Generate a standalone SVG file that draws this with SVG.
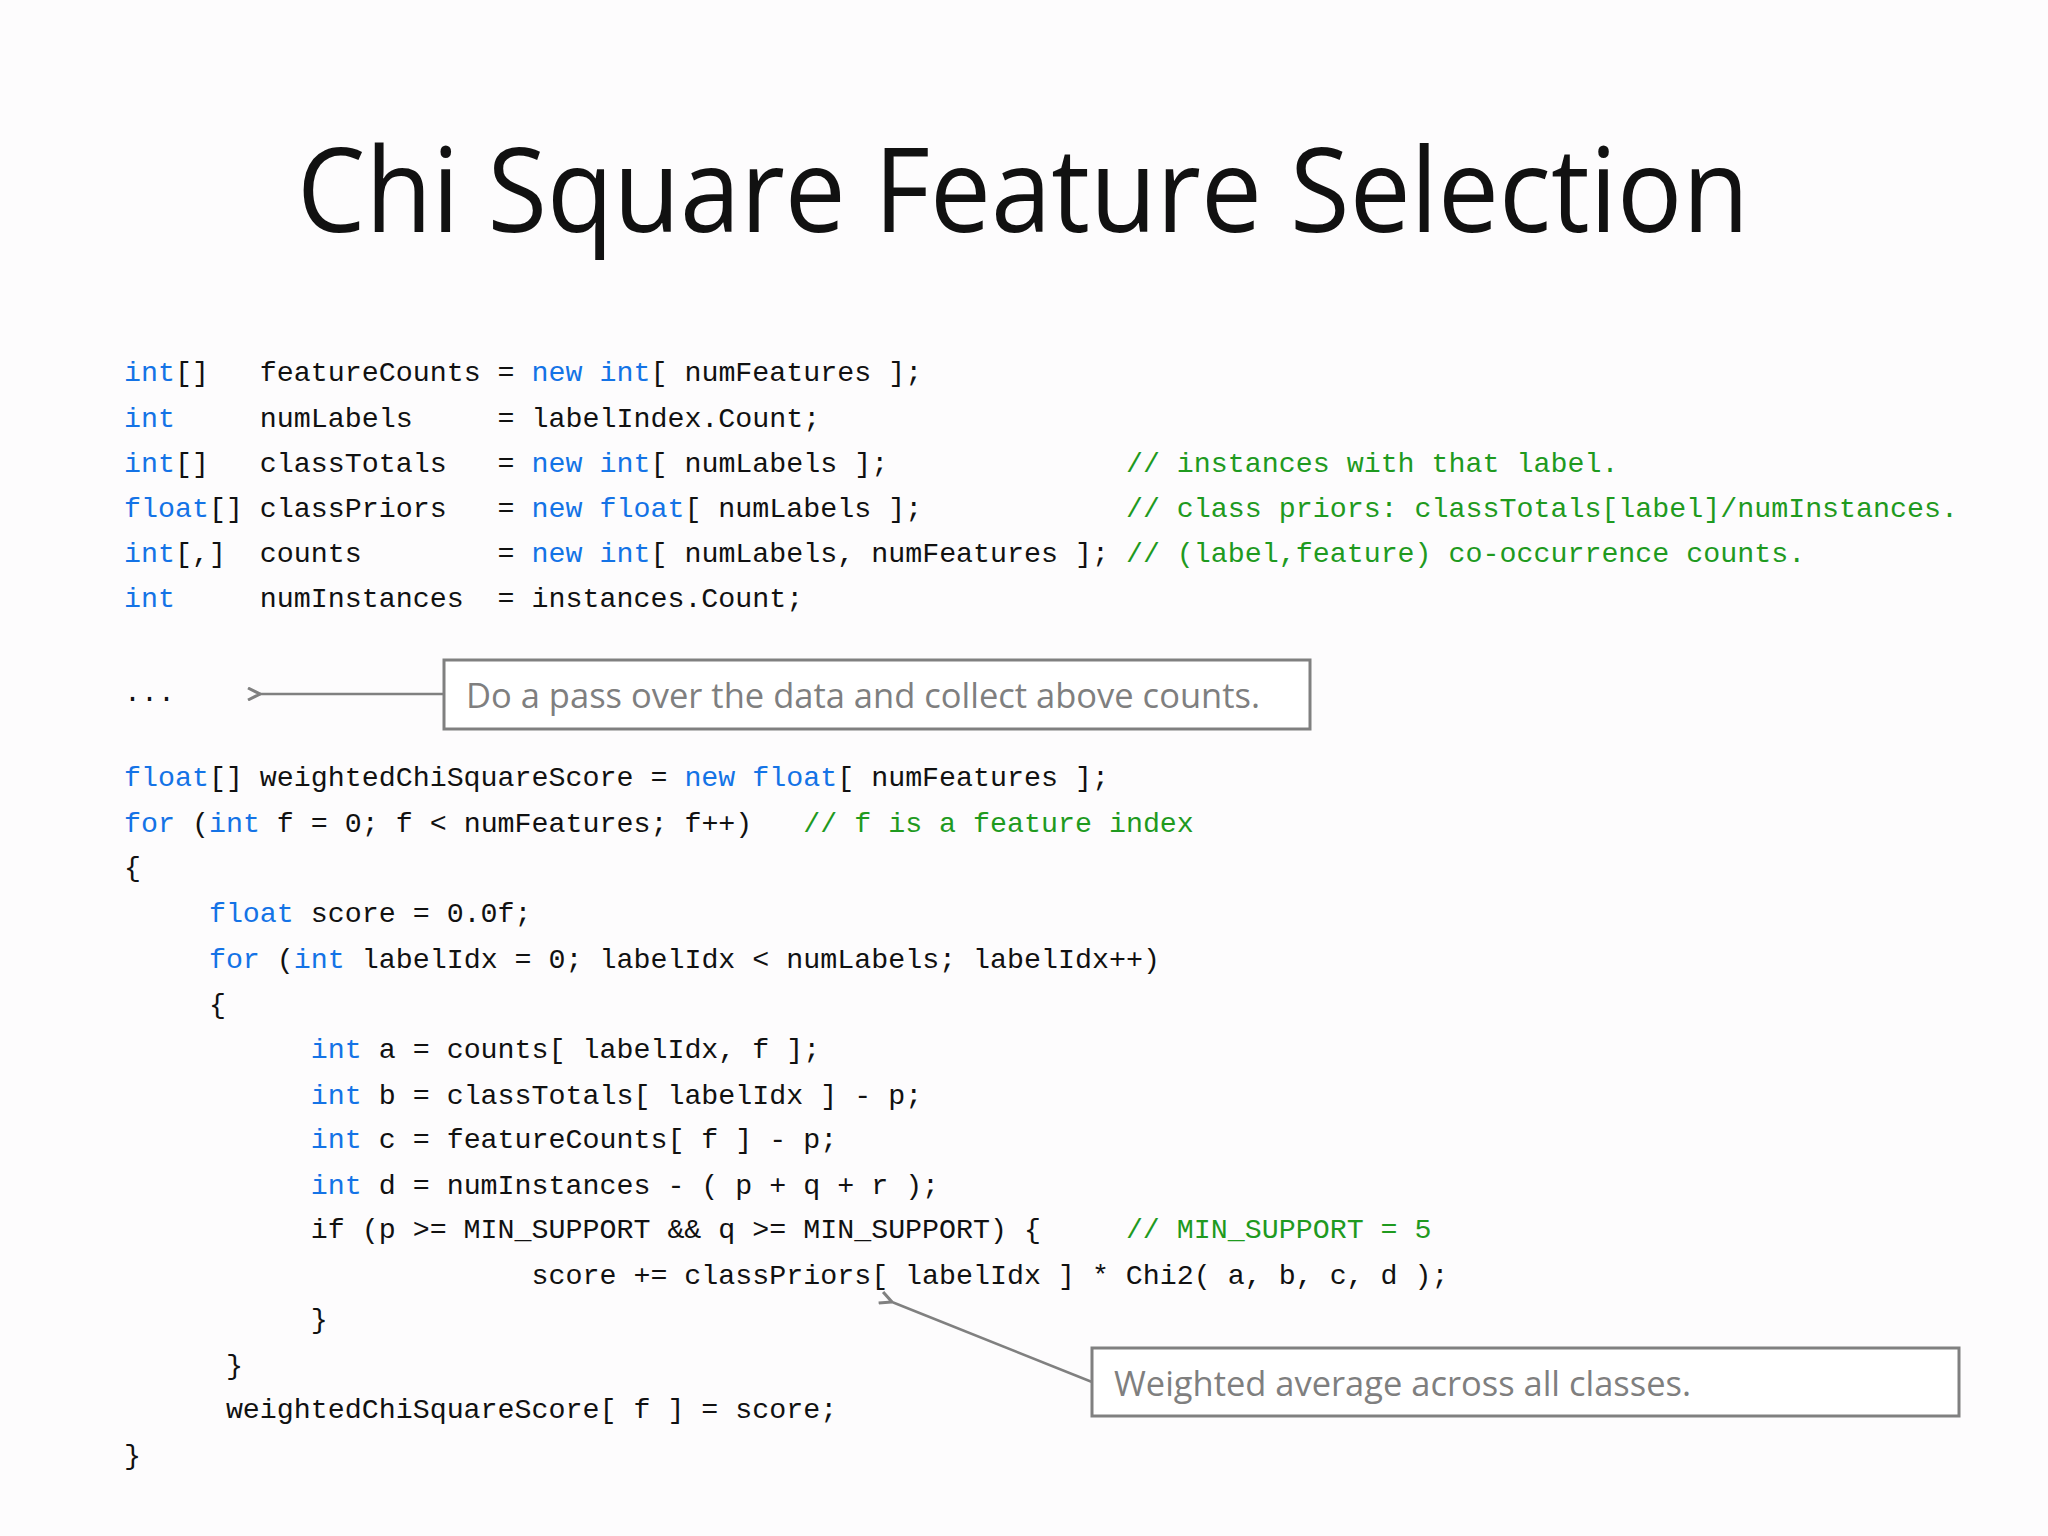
<svg xmlns="http://www.w3.org/2000/svg" width="2048" height="1536" viewBox="0 0 2048 1536">
<style>
.c{font-family:"Liberation Mono","DejaVu Sans Mono",monospace;font-size:28.3px;fill:#111;white-space:pre}
.k{fill:#1473e6}
.g{fill:#1f9a1f}
.n{font-family:"Open Sans","Liberation Sans",sans-serif;fill:#7f7f7f;font-size:34px}
.box{fill:#fff;stroke:#808080;stroke-width:3}
.con{stroke:#808080;stroke-width:2.5;fill:none}
</style>
<defs><marker id="ah" markerWidth="14" markerHeight="14" refX="1" refY="7" orient="auto" markerUnits="userSpaceOnUse"><path d="M13,1 L1,7 L13,13" fill="none" stroke="#808080" stroke-width="3"/></marker></defs>
<rect width="2048" height="1536" fill="#fdfcfd"/>
<text x="1023" y="232" text-anchor="middle" font-family="'Open Sans','Liberation Sans',sans-serif" font-size="118" fill="#111" textLength="1452" lengthAdjust="spacingAndGlyphs">Chi Square Feature Selection</text>
<g id="code" xml:space="preserve">
<text class="c" x="124" y="381"><tspan class="k">int</tspan>[]   featureCounts = <tspan class="k">new</tspan> <tspan class="k">int</tspan>[ numFeatures ];</text>
<text class="c" x="124" y="427"><tspan class="k">int</tspan>     numLabels     = labelIndex.Count;</text>
<text class="c" x="124" y="472"><tspan class="k">int</tspan>[]   classTotals   = <tspan class="k">new</tspan> <tspan class="k">int</tspan>[ numLabels ];              <tspan class="g">// instances with that label.</tspan></text>
<text class="c" x="124" y="517"><tspan class="k">float</tspan>[] classPriors   = <tspan class="k">new</tspan> <tspan class="k">float</tspan>[ numLabels ];            <tspan class="g">// class priors: classTotals[label]/numInstances.</tspan></text>
<text class="c" x="124" y="562"><tspan class="k">int</tspan>[,]  counts        = <tspan class="k">new</tspan> <tspan class="k">int</tspan>[ numLabels, numFeatures ]; <tspan class="g">// (label,feature) co-occurrence counts.</tspan></text>
<text class="c" x="124" y="607"><tspan class="k">int</tspan>     numInstances  = instances.Count;</text>
<text class="c" x="124" y="701">...</text>
<text class="c" x="124" y="786"><tspan class="k">float</tspan>[] weightedChiSquareScore = <tspan class="k">new</tspan> <tspan class="k">float</tspan>[ numFeatures ];</text>
<text class="c" x="124" y="832"><tspan class="k">for</tspan> (<tspan class="k">int</tspan> f = 0; f &lt; numFeatures; f++)   <tspan class="g">// f is a feature index</tspan></text>
<text class="c" x="124" y="876">{</text>
<text class="c" x="124" y="922">     <tspan class="k">float</tspan> score = 0.0f;</text>
<text class="c" x="124" y="968">     <tspan class="k">for</tspan> (<tspan class="k">int</tspan> labelIdx = 0; labelIdx &lt; numLabels; labelIdx++)</text>
<text class="c" x="124" y="1013">     {</text>
<text class="c" x="124" y="1058">           <tspan class="k">int</tspan> a = counts[ labelIdx, f ];</text>
<text class="c" x="124" y="1104">           <tspan class="k">int</tspan> b = classTotals[ labelIdx ] - p;</text>
<text class="c" x="124" y="1148">           <tspan class="k">int</tspan> c = featureCounts[ f ] - p;</text>
<text class="c" x="124" y="1194">           <tspan class="k">int</tspan> d = numInstances - ( p + q + r );</text>
<text class="c" x="124" y="1238">           if (p &gt;= MIN_SUPPORT &amp;&amp; q &gt;= MIN_SUPPORT) {     <tspan class="g">// MIN_SUPPORT = 5</tspan></text>
<text class="c" x="124" y="1284">                        score += classPriors[ labelIdx ] * Chi2( a, b, c, d );</text>
<text class="c" x="124" y="1328">           }</text>
<text class="c" x="124" y="1374">      }</text>
<text class="c" x="124" y="1418">      weightedChiSquareScore[ f ] = score;</text>
<text class="c" x="124" y="1464">}</text>
</g>
<g id="connectors">
<line class="con" x1="444" y1="694" x2="260" y2="694" marker-end="url(#ah)"/>
<line class="con" x1="1092" y1="1382" x2="892" y2="1302" marker-end="url(#ah)"/>
</g>
<g id="note1">
<rect class="box" x="444" y="660" width="866" height="69"/>
<text class="n" x="466" y="708" textLength="794" lengthAdjust="spacingAndGlyphs">Do a pass over the data and collect above counts.</text>
</g>
<g id="note2">
<rect class="box" x="1092" y="1348" width="867" height="68"/>
<text class="n" x="1114" y="1396" textLength="577" lengthAdjust="spacingAndGlyphs">Weighted average across all classes.</text>
</g>
</svg>
